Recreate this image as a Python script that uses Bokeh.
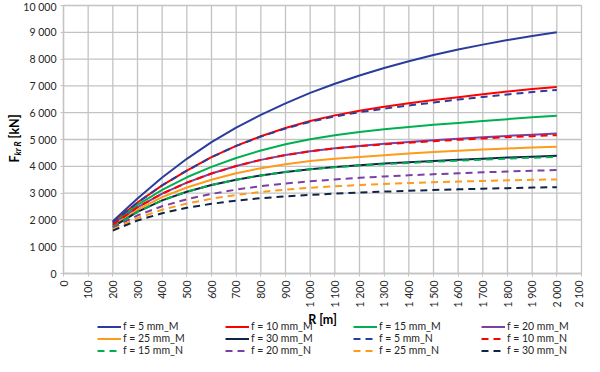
from math import pi
from bokeh.plotting import figure
from bokeh.models import FixedTicker, Legend, LegendItem, Label, Range1d
from bokeh.embed import file_html
from bokeh.resources import INLINE

R = [200, 300, 400, 500, 600, 700, 800, 900, 1000, 1100, 1200, 1300, 1400, 1500, 1600, 1700, 1800, 1900, 2000]

f5_M  = [1950, 2800, 3580, 4280, 4900, 5440, 5920, 6350, 6740, 7080, 7390, 7670, 7920, 8150, 8360, 8540, 8710, 8860, 9000]
f10_M = [1900, 2650, 3290, 3840, 4340, 4760, 5120, 5430, 5690, 5900, 6070, 6220, 6350, 6470, 6580, 6690, 6790, 6880, 6960]
f15_M = [1860, 2560, 3120, 3590, 3980, 4310, 4590, 4820, 5010, 5160, 5280, 5380, 5470, 5550, 5620, 5690, 5760, 5830, 5890]
f20_M = [1820, 2470, 2980, 3390, 3730, 4010, 4240, 4420, 4560, 4670, 4760, 4840, 4910, 4970, 5030, 5085, 5135, 5180, 5220]
f25_M = [1780, 2380, 2850, 3210, 3500, 3740, 3930, 4080, 4200, 4280, 4350, 4415, 4475, 4530, 4580, 4625, 4665, 4700, 4730]
f30_M = [1740, 2300, 2730, 3050, 3300, 3500, 3660, 3790, 3890, 3970, 4040, 4100, 4150, 4200, 4245, 4285, 4325, 4360, 4390]
f5_N  = [1900, 2650, 3290, 3840, 4340, 4760, 5110, 5410, 5660, 5860, 6020, 6150, 6270, 6380, 6490, 6590, 6680, 6770, 6850]
f10_N = [1820, 2470, 2980, 3390, 3730, 4010, 4240, 4420, 4560, 4670, 4750, 4820, 4880, 4935, 4990, 5040, 5085, 5125, 5160]
f15_N = [1740, 2300, 2730, 3050, 3300, 3500, 3660, 3790, 3890, 3965, 4030, 4080, 4125, 4170, 4210, 4250, 4285, 4320, 4350]
f20_N = [1700, 2170, 2510, 2770, 2970, 3130, 3260, 3360, 3440, 3510, 3570, 3620, 3665, 3705, 3740, 3775, 3805, 3835, 3860]
f25_N = [1650, 2070, 2380, 2610, 2790, 2930, 3040, 3130, 3200, 3255, 3300, 3340, 3375, 3405, 3430, 3455, 3475, 3495, 3510]
f30_N = [1600, 1980, 2250, 2450, 2600, 2720, 2810, 2880, 2935, 2980, 3020, 3055, 3085, 3115, 3140, 3165, 3185, 3205, 3220]

series_names = ["f = 5 mm_M", "f = 10 mm_M", "f = 15 mm_M", "f = 20 mm_M", "f = 25 mm_M", "f = 30 mm_M",
                "f = 5 mm_N", "f = 10 mm_N", "f = 15 mm_N", "f = 20 mm_N", "f = 25 mm_N", "f = 30 mm_N"]
series_values = [f5_M, f10_M, f15_M, f20_M, f25_M, f30_M, f5_N, f10_N, f15_N, f20_N, f25_N, f30_N]

x_ticks = list(range(0, 2101, 100))
x_tick_labels = ["0", "100", "200", "300", "400", "500", "600", "700", "800", "900", "1 000",
                 "1 100", "1 200", "1 300", "1 400", "1 500", "1 600", "1 700", "1 800", "1 900", "2 000", "2 100"]
y_ticks = list(range(0, 10001, 1000))
y_tick_labels = ["0", "1 000", "2 000", "3 000", "4 000", "5 000", "6 000", "7 000", "8 000", "9 000", "10 000"]

colors = ["#2a3d9c", "#ff0000", "#00b050", "#7b3fa6", "#ff9a1a", "#0f2547"]
FONT = "Lato"
GRID = "#c3c3c3"

# ---- layout: the frame fills the whole figure; axes are fixed inside it ----
W, H = 584, 356
PLOT_L, PLOT_R = 63, 581        # pixel columns of x = 0 and x = 2100
PLOT_T, PLOT_B = 5, 273         # pixel rows of y = 10000 and y = 0
XMAX, YMAX = x_ticks[-1], y_ticks[-1]
sx = XMAX / (PLOT_R - PLOT_L)
sy = YMAX / (PLOT_B - PLOT_T)
x_range = Range1d(-PLOT_L * sx, XMAX + (W - PLOT_R) * sx)
y_range = Range1d(-(H - PLOT_B) * sy, YMAX + PLOT_T * sy)

def px_x(px):   # figure pixel column -> data x
    return (px - PLOT_L) * sx

def px_y(py):   # figure pixel row -> data y
    return (PLOT_B - py) * sy

p = figure(width=W, height=H, output_backend="svg", toolbar_location=None,
           x_range=x_range, y_range=y_range, min_border=0)
p.outline_line_color = None
p.background_fill_color = "white"
p.border_fill_color = "white"
p.xgrid.visible = False
p.ygrid.visible = False

# grid lines (from the tick lists)
p.segment(x0=x_ticks, y0=[y_ticks[0]] * len(x_ticks), x1=x_ticks, y1=[YMAX] * len(x_ticks),
          line_color=GRID, line_width=1.3)
p.segment(x0=[x_ticks[0]] * len(y_ticks), y0=y_ticks, x1=[XMAX] * len(y_ticks), y1=y_ticks,
          line_color=GRID, line_width=1.3)

for ax in (p.xaxis[0], p.yaxis[0]):
    ax.fixed_location = 0
    ax.axis_line_color = GRID
    ax.axis_line_width = 1.3
    ax.major_tick_line_color = GRID
    ax.major_tick_out = 3
    ax.major_tick_in = 0
    ax.minor_tick_line_color = None
    ax.major_label_text_font = FONT
    ax.major_label_text_font_size = "10.5px"
    ax.major_label_text_color = "#262626"

p.xaxis.bounds = (x_ticks[0], XMAX)
p.xaxis.ticker = FixedTicker(ticks=x_ticks)
p.xaxis.major_label_overrides = {t: s for t, s in zip(x_ticks, x_tick_labels)}
p.xaxis.major_label_orientation = pi / 2
p.xaxis.major_label_standoff = 4
p.xaxis.axis_label = "R [m]"
p.xaxis.axis_label_text_font = FONT
p.xaxis.axis_label_text_font_style = "bold"
p.xaxis.axis_label_text_font_size = "12.5px"
p.xaxis.axis_label_text_color = "#000000"
p.xaxis.axis_label_standoff = 1

p.yaxis.bounds = (y_ticks[0], YMAX)
p.yaxis.ticker = FixedTicker(ticks=y_ticks)
p.yaxis.major_label_overrides = {t: s for t, s in zip(y_ticks, y_tick_labels)}
p.yaxis.major_label_standoff = 4

renderers = []
for i, (name, vals) in enumerate(zip(series_names, series_values)):
    dashed = i >= 6
    r = p.line(R, vals, line_color=colors[i % 6], line_width=2,
               line_dash="7 5" if dashed else "solid")
    renderers.append(r)

items = [LegendItem(label=n, renderers=[r]) for n, r in zip(series_names, renderers)]
legend = Legend(items=items, orientation="horizontal", ncols=4,
                location=(97, 0), margin=0, padding=0, spacing=0,
                glyph_width=24, glyph_height=11, label_height=11, label_width=102,
                label_standoff=2, label_text_font=FONT, label_text_font_size="10.5px",
                label_text_color="#262626", border_line_color=None,
                background_fill_alpha=0)
p.add_layout(legend, "center")

# y-axis title with subscript, rotated (reads bottom to top)
common = dict(angle=pi / 2, angle_units="rad", text_align="left", text_baseline="alphabetic",
              text_font=FONT, text_color="#000000")
p.add_layout(Label(x=px_x(14), y=px_y(162), text="F", text_font_size="12.5px",
                   text_font_style="bold", **common))
p.add_layout(Label(x=px_x(17), y=px_y(155), text="kr R", text_font_size="8.5px",
                   text_font_style="bold italic", **common))
p.add_layout(Label(x=px_x(14), y=px_y(138), text="[kN]", text_font_size="12.5px",
                   text_font_style="bold", **common))

open("out.html", "w").write(file_html(p, INLINE))
